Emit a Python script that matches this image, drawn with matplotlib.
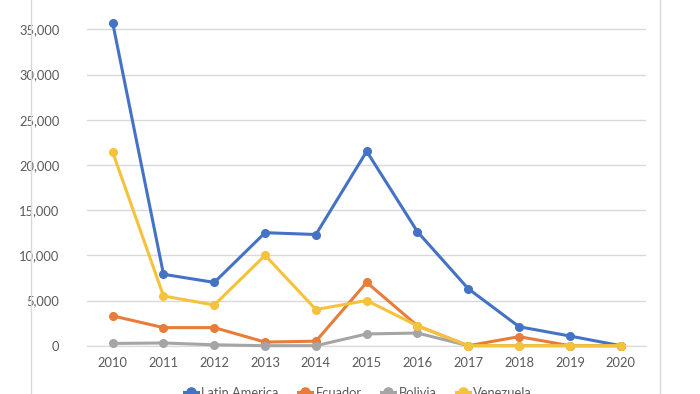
#!/usr/bin/env python3
"""plot.py — line chart of yearly counts, Latin America vs Ecuador/Bolivia/Venezuela."""
import matplotlib
matplotlib.use('Agg')
import matplotlib.pyplot as plt
from matplotlib.lines import Line2D
from matplotlib.ticker import FuncFormatter

years = [2010, 2011, 2012, 2013, 2014, 2015, 2016, 2017, 2018, 2019, 2020]
latin_america = [35700, 7900, 7000, 12500, 12300, 21500, 12600, 6300, 2100, 1070, 0]
ecuador = [3300, 2000, 2000, 400, 500, 7000, 2200, 0, 1000, 0, 0]
bolivia = [250, 300, 100, 0, 0, 1300, 1400, 0, 0, 0, 0]
venezuela = [21400, 5500, 4500, 10000, 4000, 5000, 2200, 0, 0, 0, 0]

series = [
    ('Latin America', latin_america, '#4472C4'),
    ('Ecuador', ecuador, '#E67D3A'),
    ('Bolivia', bolivia, '#A5A5A5'),
    ('Venezuela', venezuela, '#F6C23C'),
]

plt.rcParams['font.family'] = ['Lato', 'DejaVu Sans']

W, H = 700, 394
fig = plt.figure(figsize=(W / 100, H / 100), dpi=100)
# plot area: y=0 at 345.7px, 5000 per 45.2px, top runs off the canvas
y0 = 345.7
step = 45.2
ax = fig.add_axes([87.3 / W, (H - y0) / H, (646.1 - 87.3) / W, 8 * step / H])
ax.set_xlim(2009.5, 2020.5)
ax.set_ylim(0, 40000)

for name, vals, col in series:
    ax.plot(years, vals, color=col, linewidth=2.2, marker='o', markersize=5.5,
            label=name, clip_on=False, zorder=3)

ax.set_yticks(range(0, 35001, 5000))
ax.yaxis.set_major_formatter(FuncFormatter(lambda v, p: f"{int(v):,}"))
ax.set_xticks(years)
ax.grid(axis='y', color='#D9D9D9', linewidth=1)
ax.set_axisbelow(True)
for s in ax.spines.values():
    s.set_visible(False)
ax.spines['bottom'].set_visible(True)
ax.spines['bottom'].set_color('#D9D9D9')
ax.tick_params(length=0, labelsize=9.3, labelcolor='#595959')
ax.tick_params(axis='y', pad=20)
ax.tick_params(axis='x', pad=8)

# chart-area border lines on the left and right
for xp in (31, 660):
    fig.add_artist(Line2D([xp / W, xp / W], [0, 1], color='#D9D9D9', linewidth=1))

fig.legend(loc='center', bbox_to_anchor=(358 / W, 1 - 393 / H), ncol=4, frameon=False,
           fontsize=9.3, labelcolor='#595959', handlelength=1.1, handletextpad=0.25,
           columnspacing=1.5, markerscale=1.2)

fig.savefig('out.png', dpi=100)
plt.close(fig)
